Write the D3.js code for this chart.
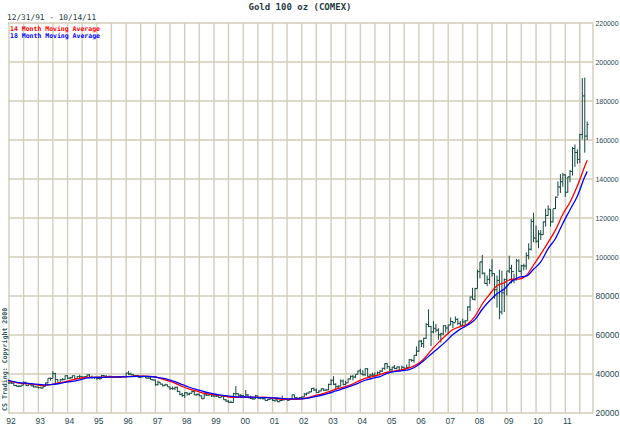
<!DOCTYPE html>
<html>
<head>
<meta charset="utf-8">
<title>Gold 100 oz (COMEX)</title>
<script src="https://cdn.jsdelivr.net/npm/d3@7"></script>
<style>
  body { margin: 0; background: #fff; }
  svg { display: block; }
  .axis text { font-family: "Liberation Sans", Arial, sans-serif; font-size: 8.5px; fill: #27494f; }
  .axis text.long { font-size: 6.9px; }
  .axis path, .axis line { display: none; }
</style>
</head>
<body>
<div id="chart"></div>
<script>
// monthly bars Jan 1992 - Oct 2011, $/oz (axis labels are x100)
let opens = [
  353,354,353,341,337,337,343,357,340,349,339,334,
  333,330,328,337,354,378,377,402,372,355,370,371,
  391,378,381,391,376,387,386,384,386,395,384,383,
  383,377,376,392,389,385,388,384,383,384,383,387,
  387,405,400,396,392,392,382,385,387,379,379,371,
  369,345,358,348,340,345,334,326,325,332,311,296,
  290,304,297,301,310,293,296,288,273,293,292,294,
  288,287,287,279,286,268,261,255,254,299,299,291,
  290,283,293,278,274,272,288,276,277,273,264,270,
  273,265,267,258,264,267,271,265,273,293,279,275,
  279,282,297,302,308,326,318,305,313,324,317,318,
  347,368,347,335,338,364,346,354,375,388,384,398,
  416,400,396,427,388,394,395,391,407,415,429,453,
  438,422,435,428,436,417,435,429,433,473,470,496,
  517,569,556,583,654,644,616,634,625,601,606,648,
  636,651,669,663,680,660,650,667,673,744,795,783,
  838,925,975,917,864,885,930,915,832,880,718,816,
  884,928,942,925,883,980,927,955,954,1008,1040,1182,
  1097,1081,1118,1115,1180,1213,1245,1180,1248,1307,1359,1386,
  1421,1332,1411,1439,1556,1536,1500,1628,1826,1620
];
let highs = [
  361,360,354,345,342,344,362,360,350,353,345,337,
  335,334,338,356,378,382,414,406,375,375,380,393,
  394,386,392,392,390,396,390,388,398,399,392,384,
  383,381,396,395,393,391,390,388,386,388,389,391,
  405,416,407,400,394,393,387,392,389,384,385,373,
  370,366,358,350,350,346,335,336,335,335,313,303,
  307,306,304,315,312,300,299,291,301,300,300,297,
  292,291,289,293,290,271,265,263,303,338,301,297,
  293,318,297,288,281,293,289,280,279,274,272,275,
  273,269,269,265,290,273,272,275,294,294,282,281,
  285,303,304,311,328,331,326,316,327,326,324,350,
  372,389,353,341,372,372,365,377,392,396,399,417,
  427,420,429,430,400,407,408,414,419,432,455,457,
  438,437,446,437,439,443,436,449,476,475,497,541,
  571,575,586,661,732,646,672,657,635,612,650,650,
  654,690,671,695,686,672,684,677,746,796,842,842,
  935,975,1011,920,905,940,988,915,905,935,930,890,
  927,1007,960,914,990,989,960,966,1024,1070,1195,1227,
  1161,1138,1138,1182,1248,1265,1245,1247,1310,1388,1425,1432,
  1424,1411,1447,1564,1577,1552,1632,1917,1920,1695
];
let lows = [
  350,350,340,336,333,335,343,338,339,338,332,331,
  326,326,326,336,352,366,377,350,347,353,367,370,
  374,375,378,371,374,377,380,373,385,383,376,374,
  370,372,375,387,381,383,382,381,381,381,382,385,
  387,394,394,389,390,381,380,384,378,377,370,366,
  340,341,346,336,338,334,318,319,317,307,291,282,
  277,289,291,301,292,288,286,272,273,287,286,282,
  282,282,278,278,268,256,252,252,253,289,288,282,
  283,283,277,272,267,272,275,270,269,263,262,268,
  262,257,256,255,264,266,265,265,271,277,271,272,
  277,280,289,300,307,313,303,302,312,312,315,317,
  343,343,319,325,336,342,342,354,371,367,379,398,
  399,392,390,386,372,387,383,389,398,410,421,426,
  416,410,424,423,414,416,418,428,431,463,457,492,
  514,538,534,580,640,543,609,613,575,561,599,613,
  603,650,636,665,651,641,645,650,673,722,781,777,
  838,890,910,863,850,862,900,786,740,681,705,718,
  802,918,865,865,880,922,905,931,935,988,1033,1076,
  1071,1045,1088,1114,1156,1212,1156,1177,1246,1313,1328,1360,
  1308,1330,1383,1418,1462,1478,1481,1603,1535,1600
];
let closes = [
  354,353,341,337,337,343,357,340,349,339,334,333,
  330,328,337,354,378,377,402,372,355,370,371,391,
  378,381,391,376,387,386,384,386,395,384,383,383,
  377,376,392,389,385,388,384,383,384,383,387,387,
  405,400,396,392,392,382,385,387,379,379,371,369,
  345,358,348,340,345,334,326,325,332,311,296,290,
  304,297,301,310,293,296,288,273,293,292,294,288,
  287,287,279,286,268,261,255,254,299,299,291,290,
  283,293,278,274,272,288,276,277,273,264,270,273,
  265,267,258,264,267,271,265,273,293,279,275,279,
  282,297,302,308,326,318,305,313,324,317,318,347,
  368,347,335,338,364,346,354,375,388,384,398,416,
  400,396,427,388,394,395,391,407,415,429,453,438,
  422,435,428,436,417,435,429,433,473,470,496,517,
  569,556,583,654,644,616,634,625,601,606,648,636,
  651,669,663,680,660,650,667,673,744,795,783,838,
  925,975,917,864,885,930,915,832,880,718,816,884,
  928,942,925,883,980,927,955,954,1008,1040,1182,1097,
  1081,1118,1115,1180,1213,1245,1180,1248,1307,1359,1386,1421,
  1332,1411,1439,1556,1536,1500,1628,1826,1620,1680
];

// moving averages read at Dec 91, then every quarter end, then Oct 11
let ma14 = [
  367,
  358,352,350,345, 340,345,353,360, 370,378,382,383, 384,385,385,385,
  388,389,389,386, 378,366,353,336, 322,312,301,295, 292,285,280,281,
  280,280,281,279, 273,270,270,271, 277,288,297,308, 322,332,344,362,
  377,387,397,409, 415,421,431,448, 476,521,561,597, 628,643,656,695,
  759,809,852,868, 886,887,905,959, 1015,1075,1139,1219, 1281,1365,1465,
  1496
];
let ma18 = [
  371,
  361,354,352,348, 344,346,350,357, 362,370,380,382, 383,384,385,385,
  387,388,388,386, 380,373,361,346, 332,320,309,301, 293,289,284,282,
  282,280,279,278, 277,273,272,272, 275,283,291,301, 313,325,338,352,
  368,378,387,403, 412,417,423,440, 468,501,533,566, 602,630,651,679,
  732,776,812,836, 875,896,902,937, 975,1043,1095,1172, 1242,1313,1411,
  1438
];

let yearLabels = ['92','93','94','95','96','97','98','99','00','01',
                  '02','03','04','05','06','07','08','09','10','11'];
let yTicks = [200,400,600,800,1000,1200,1400,1600,1800,2000,2200];

let width = 620;
let height = 437;
let plotLeft = 8, plotRight = 593, plotTop = 23, plotBottom = 413;

let months = d3.timeMonth.range(new Date(1992, 0, 1), new Date(2011, 10, 1));
let maDates = d3.timeMonth.range(new Date(1991, 11, 1), new Date(2011, 9, 1), 3);
maDates.push(new Date(2011, 9, 1));
let yearDates = yearLabels.map((d, i) => new Date(1992 + i, 0, 1));
let gridDates = d3.timeMonth.range(new Date(1992, 0, 1), new Date(2011, 7, 1), 6);

let bars = months.map((m, i) => ({
    date: m, o: opens[i], h: highs[i], l: lows[i], c: closes[i]
}));

const x = d3.scaleTime()
    .domain([new Date(1992, 0, 1), new Date(2011, 0, 1)])
    .range([9, 565.3]);
const y = d3.scaleLinear().domain([200, 2200]).range([plotBottom, plotTop]);

const svg = d3.select('#chart').append('svg')
    .attr('width', width)
    .attr('height', height);

svg.append('rect').attr('width', width).attr('height', height).attr('fill', '#fff');

svg.append('clipPath').attr('id', 'plot')
    .append('rect')
    .attr('x', plotLeft).attr('y', plotTop)
    .attr('width', plotRight - plotLeft).attr('height', plotBottom - plotTop);

// grid
const grid = svg.append('g')
    .attr('stroke', '#d2cebb')
    .attr('stroke-width', 1.4);

grid.selectAll('.hg')
    .data(yTicks)
    .enter()
    .append('line')
    .attr('x1', plotLeft).attr('x2', plotRight)
    .attr('y1', (d) => y(d)).attr('y2', (d) => y(d));

grid.selectAll('.vg')
    .data(gridDates)
    .enter()
    .append('line')
    .attr('x1', (d) => x(d)).attr('x2', (d) => x(d))
    .attr('y1', plotTop).attr('y2', plotBottom);

grid.append('line')
    .attr('x1', plotRight).attr('x2', plotRight)
    .attr('y1', plotTop).attr('y2', plotBottom);

// copyright, vertical on the left
svg.append('text')
    .attr('transform', 'translate(7,411) rotate(-90)')
    .attr('font-family', 'DejaVu Sans Mono, monospace')
    .attr('font-weight', 'bold')
    .attr('font-size', 6.6)
    .attr('fill', '#2f5a5a')
    .text('CS Trading: Copyright 2000');

// OHLC bars
const plot = svg.append('g').attr('clip-path', 'url(#plot)');

plot.selectAll('.bar')
    .data(bars)
    .enter()
    .append('path')
    .attr('class', 'bar')
    .attr('fill', 'none')
    .attr('stroke', '#12493f')
    .attr('stroke-width', 1)
    .attr('d', (d) => {
        let px = x(d.date);
        return 'M' + px + ',' + y(d.h) + 'V' + y(d.l) +
            'M' + (px - 1.4) + ',' + y(d.o) + 'H' + px +
            'M' + px + ',' + y(d.c) + 'H' + (px + 1.4);
    });

// moving averages
const maLine = d3.line()
    .x((d, i) => x(maDates[i]))
    .y((d) => y(d))
    .curve(d3.curveMonotoneX);

plot.append('path')
    .attr('d', maLine(ma14))
    .attr('fill', 'none')
    .attr('stroke', '#ff0000')
    .attr('stroke-width', 1.3);

plot.append('path')
    .attr('d', maLine(ma18))
    .attr('fill', 'none')
    .attr('stroke', '#0000ff')
    .attr('stroke-width', 1.3);

// axes
const yAxis = svg.append('g')
    .attr('class', 'axis')
    .attr('transform', 'translate(' + plotRight + ',0)')
    .call(d3.axisRight(y).tickValues(yTicks).tickSize(0).tickPadding(2.5)
        .tickFormat((d) => String(d * 100)));

// six-digit labels get a smaller size so they fit before the right edge
yAxis.selectAll('text')
    .filter((d) => d >= 1000)
    .classed('long', true);

svg.append('g')
    .attr('class', 'axis')
    .attr('transform', 'translate(0,' + plotBottom + ')')
    .call(d3.axisBottom(x).tickValues(yearDates).tickSize(0).tickPadding(4.5)
        .tickFormat((d, i) => yearLabels[i]))
    .selectAll('text')
    .attr('dx', 1.5);

// titles
svg.append('text')
    .attr('x', 300).attr('y', 10)
    .attr('text-anchor', 'middle')
    .attr('font-family', 'DejaVu Sans Mono, monospace')
    .attr('font-weight', 'bold')
    .attr('font-size', 9)
    .attr('fill', '#1f3b3f')
    .text('Gold 100 oz (COMEX)');

svg.append('text')
    .attr('x', 7).attr('y', 20)
    .attr('font-family', 'DejaVu Sans Mono, monospace')
    .attr('font-size', 7.8)
    .attr('fill', '#243a3c')
    .text('12/31/91 - 10/14/11');

svg.append('text')
    .attr('x', 10).attr('y', 30.5)
    .attr('font-family', 'DejaVu Sans Mono, monospace')
    .attr('font-weight', 'bold')
    .attr('font-size', 6.5)
    .attr('fill', '#ff0000')
    .text('14 Month Moving Average');

svg.append('text')
    .attr('x', 10).attr('y', 37.5)
    .attr('font-family', 'DejaVu Sans Mono, monospace')
    .attr('font-weight', 'bold')
    .attr('font-size', 6.5)
    .attr('fill', '#0000ff')
    .text('18 Month Moving Average');
</script>
</body>
</html>
